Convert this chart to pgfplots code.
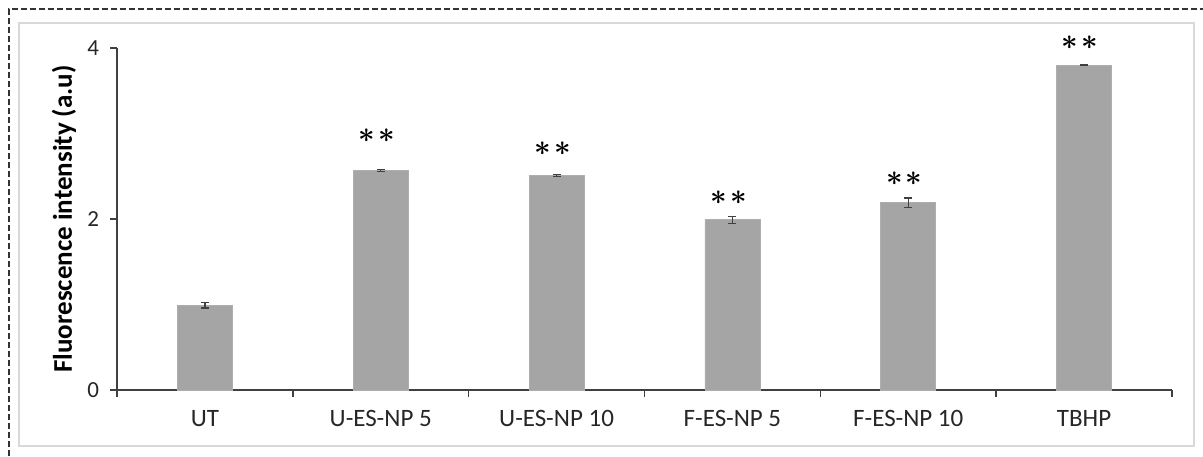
\documentclass[border=0pt]{standalone}
\usepackage{bm}
\usepackage{pgfplots}
\pgfplotsset{compat=1.18}
\usepackage{fontspec}
\setmainfont{Carlito}
\definecolor{bargray}{HTML}{A5A5A5}
\definecolor{axgray}{HTML}{404040}
\newcommand{\stars}{$\bm{\ast}\mkern2mu\bm{\ast}$}
\begin{document}
\begin{tikzpicture}
\useasboundingbox (0,0) rectangle (601.5pt,228pt);
\draw[black!80, dash pattern=on 3pt off 1.5pt, line width=0.6pt] (4.5pt,0) -- (4.5pt,223.5pt) -- (601.5pt,223.5pt);
\draw[black!15, line width=0.6pt] (9.5pt,5pt) rectangle (597pt,216.5pt);
\begin{axis}[
  at={(58.5pt,33pt)}, anchor=south west,
  width=527.5pt, height=171pt, scale only axis,
  xmin=-0.5, xmax=5.5, ymin=0, ymax=4,
  clip=false,
  axis lines=left,
  axis line style={-, axgray, line width=0.8pt},
  tick align=outside,
  xtick={0,1,2,3,4,5},
  xticklabels={UT, U-ES-NP 5, U-ES-NP 10, F-ES-NP 5, F-ES-NP 10, TBHP},
  major x tick style={draw=none},
  minor xtick={-0.5,0.5,1.5,2.5,3.5,4.5,5.5},
  minor tick length=3.5pt,
  minor tick style={axgray, line width=0.8pt},
  ytick={0,2,4},
  major tick length=3.5pt,
  y tick style={axgray, line width=0.8pt},
  /pgf/number format/assume math mode=true,
  xticklabel style={font=\fontsize{12.5}{14}\selectfont, text=black!85, yshift=-3pt},
  yticklabel style={font=\fontsize{11.5}{13}\selectfont, text=black!85, xshift=-2pt},
  ylabel={\textbf{Fluorescence intensity (a.u)}},
  ylabel style={at={(axis description cs:0,0.5)}, anchor=center, yshift=26.5pt, font=\fontsize{13.5}{15}\selectfont},
]
\addplot[ybar, bar width=27.5pt, fill=bargray, draw=bargray!90,
  error bars/.cd, y dir=both, y explicit,
  error bar style={axgray, line width=0.6pt},
  error mark options={rotate=90, mark size=2pt, axgray, line width=0.6pt}]
  table[x=x, y=y, y error=e] {
x y e
0 0.99 0.03
1 2.57 0.012
2 2.51 0.012
3 1.99 0.04
4 2.19 0.055
5 3.80 0.006
};
\addplot[draw=none, mark=none, nodes near coords, point meta=explicit symbolic,
  nodes near coords style={anchor=center, xshift=-2pt, text=black, font=\fontsize{15}{16}\selectfont}]
  table[x=x, y=y, meta=m] {
x y m
1 2.97 \stars
2 2.82 \stars
3 2.25 \stars
4 2.47 \stars
5 4.06 \stars
};
\end{axis}
\end{tikzpicture}
\end{document}
